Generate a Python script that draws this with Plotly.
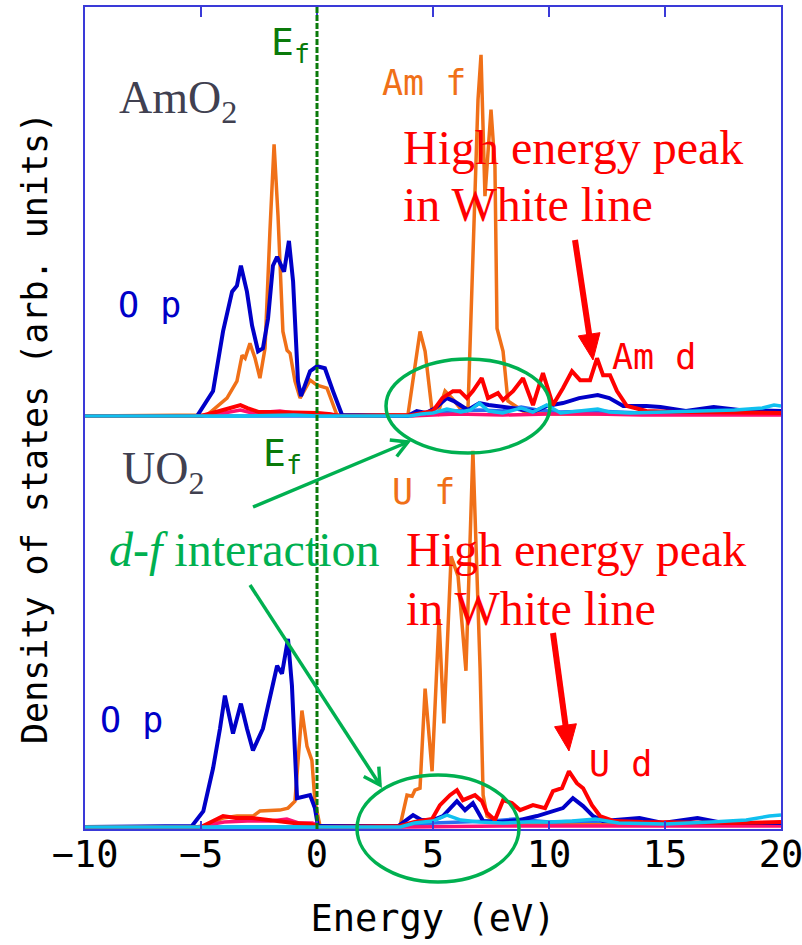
import math
import plotly.graph_objects as go
from plotly.subplots import make_subplots

# ---------------- data (arb. units) ----------------
X_RANGE = [-10, 20]
Y_RANGE = [-0.2, 41.1]
E_FERMI = 0.0
x_ticks = [-10, -5, 0, 5, 10, 15, 20]

# AmO2 (upper panel)
amo2_op_E = [-10, -5.17, -4.48, -4.05, -3.66, -3.45, -3.28, -3.02, -2.8, -2.54, -2.33, -2.11, -1.9, -1.72,
             -1.42, -1.21, -1.03, -0.82, -0.69, -0.3, 0.0, 0.34, 0.69, 1.08, 3.9, 4.3, 4.7, 5.1, 5.6, 5.9,
             6.5, 7.0, 7.4, 7.8, 8.4, 8.9, 9.4, 9.9, 10.6, 11.3, 12.1, 12.6, 13.2, 14.2, 14.8, 15.9, 17.1,
             18.2, 19.2, 20]
amo2_op = [0, 0, 2.5, 8.5, 12.5, 13.1, 15.1, 12.5, 9.1, 6.5, 6.8, 9.8, 15.1, 16.0,
           14.5, 17.6, 13.5, 3.5, 2.0, 4.5, 5.0, 4.8, 2.5, 0.1, 0, 0.5, 0.3, 0.8, 1.8, 1.5,
           0.6, 1.3, 1.1, 1.0, 0.8, 0.6, 0.5, 1.0, 1.3, 1.8, 2.1, 1.8, 1.0, 1.0, 0.9, 0.5, 0.9,
           0.6, 0.6, 0.5]

amo2_f_E = [-10, -4.74, -3.88, -3.45, -3.23, -3.1, -2.89, -2.67, -2.46, -2.24, -2.03, -1.85, -1.68, -1.47,
            -1.29, -1.16, -0.95, -0.73, -0.3, 0.0, 0.43, 0.86, 3.92, 4.44, 4.66, 4.96, 5.2, 5.52, 5.82,
            6.16, 6.51, 6.72, 6.94, 7.07, 7.24, 7.5, 7.67, 7.76, 8.02, 8.23, 8.88, 10, 12, 14, 16, 18, 20]
amo2_f = [0, 0.1, 1.8, 3.5, 6.1, 5.8, 7.3, 5.8, 3.8, 6.8, 18.5, 27.3, 20.1, 8.5,
          6.6, 6.3, 3.5, 1.8, 3.6, 3.1, 2.8, 0.1, 0.1, 8.5, 6.5, 0.5, 0.2, 2.5, 1.8,
          0.8, 0.8, 15.1, 31.8, 36.3, 22.1, 30.8, 25.1, 8.8, 6.5, 1.5, 0.5, 0.2, 0.2, 0.2, 0.2, 0.2, 0.3]

amo2_d_E = [-10, -5.0, -4.2, -3.6, -3.3, -3.0, -2.5, -2.0, -1.5, -1.0, -0.5, 0, 0.5, 1.0, 4.1, 5.0, 5.4,
            5.86, 6.16, 6.46, 6.72, 7.1, 7.37, 7.8, 8.02, 8.45, 8.88, 9.31, 9.74, 10.17, 10.6, 10.99,
            11.34, 11.77, 12.07, 12.33, 12.63, 12.93, 13.36, 14.2, 15.5, 17, 18.5, 20]
amo2_d = [0, 0, 0.5, 0.9, 1.1, 0.8, 0.4, 0.4, 0.4, 0.3, 0.3, 0.3, 0.2, 0, 0.1, 0.5, 1.8,
          2.5, 2.5, 1.8, 2.5, 3.8, 1.8, 2.3, 1.6, 2.5, 3.8, 1.1, 4.3, 1.1, 2.8, 4.5,
          3.6, 3.6, 5.8, 4.1, 4.1, 2.5, 1.0, 0.5, 0.4, 0.4, 0.3, 0.3]

amo2_pink_E = [-10, -5.0, -4.0, -3.3, -2.8, -2.0, -1.6, -1.0, -0.3, 0.5, 1.0, 4, 6, 8, 10, 12, 14, 16, 18, 20]
amo2_pink = [0, 0, 0.3, 0.6, 0.3, 0.4, 0.5, 0.3, 0.3, 0.2, 0, 0, 0.2, 0.1, 0.2, 0.2, 0.1, 0.1, 0.1, 0.1]

amo2_mb_E = [-10, 4, 5, 6, 7, 8, 8.8, 9.5, 10.5, 12, 14, 16, 18, 20]
amo2_mb = [0, 0, 0.3, 0.5, 0.6, 0.5, 0.9, 0.6, 0.4, 0.5, 0.3, 0.2, 0.3, 0.4]

amo2_cy_E = [-10, -5, -3, -1, 0, 4.0, 4.5, 5.0, 5.6, 6.2, 6.6, 7.0, 7.4, 8.0, 8.8, 9.3, 9.9, 10.5, 11.2,
             12.1, 12.6, 13.5, 15, 16.5, 18, 19.2, 19.7, 20]
amo2_cy = [0, 0, 0, 0.1, 0, 0, 0.2, 0.3, 0.7, 0.4, 0.6, 1.3, 0.5, 0.3, 0.8, 0.4, 1.1, 0.3, 0.5,
           0.7, 0.4, 0.3, 0.4, 0.5, 0.6, 0.8, 1.1, 1.0]

# UO2 (lower panel)
uo2_op_E = [-10, -5.39, -4.9, -4.48, -4.18, -3.97, -3.62, -3.28, -3.02, -2.76, -2.33, -1.94, -1.72, -1.51,
            -1.25, -1.08, -0.86, -0.3, -0.09, 0.04, 3.5, 4.14, 4.5, 5.0, 5.43, 6.03, 6.38, 6.72, 7.16, 7.8,
            8.75, 9.48, 10.17, 10.6, 11.03, 11.47, 11.9, 12.33, 13.9, 14.9, 16.4, 17.5, 20]
uo2_op = [0, 0.1, 1.6, 5.9, 9.9, 13.2, 9.4, 12.4, 9.9, 7.7, 9.9, 13.9, 16.2, 15.4,
          18.9, 14.2, 2.9, 3.2, 1.9, 0.1, 0.1, 1.2, 0.7, 0.7, 1.1, 2.6, 1.7, 2.4, 0.6, 0.5,
          0.7, 1.1, 1.6, 1.9, 2.9, 2.1, 1.1, 0.6, 0.9, 0.4, 0.9, 0.4, 0.4]

uo2_f_E = [-10, -5.0, -4.05, -3.45, -2.76, -2.46, -1.6, -1.25, -0.95, -0.65, -0.43, -0.22, -0.09, 0.13,
           3.58, 3.88, 4.1, 4.22, 4.44, 4.66, 4.96, 5.26, 5.47, 5.78, 6.08, 6.42, 6.72, 7.03, 7.16, 7.33,
           7.7, 9, 11, 13, 15, 17, 19, 20]
uo2_f = [0, 0, 0.9, 1.1, 1.1, 1.6, 1.7, 1.9, 2.6, 11.7, 8.1, 6.7, 2.6, 0.1,
         0.1, 3.2, 3.1, 3.7, 3.9, 13.9, 5.6, 20.9, 10.4, 27.2, 25.2, 15.7, 37.8, 15.9, 3.2, 1.1,
         0.6, 0.3, 0.3, 0.3, 0.2, 0.2, 0.3, 0.3]

uo2_d_E = [-10, -5.0, -4.05, -3.5, -2.8, -1.8, -1.0, -0.3, 0.1, 3.58, 4.2, 4.96, 5.3, 5.73, 6.03, 6.29,
           6.81, 7.11, 7.33, 7.67, 8.02, 8.4, 8.75, 9.31, 9.83, 10.17, 10.56, 10.86, 11.2, 11.47, 11.85,
           12.2, 12.8, 14, 16, 18, 20]
uo2_d = [0, 0, 1.1, 0.9, 0.9, 0.6, 0.4, 0.3, 0, 0.1, 0.5, 0.8, 2.2, 3.2, 3.7, 2.7,
         3.2, 2.6, 1.4, 0.7, 2.7, 2.4, 1.7, 2.2, 1.9, 3.6, 3.9, 5.6, 4.4, 3.9, 2.2,
         1.1, 0.6, 0.5, 0.4, 0.4, 0.5]

uo2_pink_E = [-10, -5.2, -4.0, -3.0, -2.0, -1.3, -0.8, -0.2, 0.2, 4, 8, 12, 16, 20]
uo2_pink = [0, 0, 0.5, 0.6, 0.6, 0.8, 0.4, 0.4, 0, 0, 0.1, 0.1, 0.1, 0.1]

uo2_mb_E = [-10, 3.6, 5, 6.5, 7.5, 8.5, 10, 12, 14, 16, 18, 20]
uo2_mb = [0, 0, 0.4, 0.5, 0.6, 0.8, 0.5, 0.6, 0.4, 0.3, 0.3, 0.3]

uo2_cy_E = [-10, 3.6, 4.2, 5.0, 5.6, 6.2, 7.0, 8.0, 9.0, 10.0, 11.0, 12.0, 13.0, 15.0, 17.0, 18.5, 19.5, 20]
uo2_cy = [0, 0, 0.4, 0.6, 1.2, 0.7, 0.5, 0.4, 0.5, 0.5, 0.6, 0.8, 0.4, 0.3, 0.5, 0.7, 1.1, 1.2]

# ---------------- styling ----------------
C_OP = "#0000c8"
C_F = "#f07018"
C_D = "#ff0000"
C_PINK = "#ff1070"
C_MB = "#2a6ef0"
C_CY = "#10c0f0"
C_GREEN = "#00b050"
C_EF = "#0a7a0a"
C_FRAME = "#3a3ad8"
C_NAME = "#404050"
GOTHIC = "DejaVu Sans Mono"
SERIF = "Liberation Serif, Times New Roman, serif"

W, H = 802, 945
ML, MR, MT, MB = 85, 21, 7, 116
PW, PH = W - ML - MR, H - MT - MB


def fx(px):
    return (px - ML) / PW


def fy(py):
    return (H - MB - py) / PH


def ex(e):
    return (e - X_RANGE[0]) / (X_RANGE[1] - X_RANGE[0])


fig = make_subplots(rows=2, cols=1, shared_xaxes=True, vertical_spacing=0)

panels = [
    (1, [(amo2_f_E, amo2_f, C_F, 3.5), (amo2_mb_E, amo2_mb, C_MB, 3.5), (amo2_pink_E, amo2_pink, C_PINK, 3.5),
         (amo2_op_E, amo2_op, C_OP, 4), (amo2_d_E, amo2_d, C_D, 4), (amo2_cy_E, amo2_cy, C_CY, 3.5)]),
    (2, [(uo2_f_E, uo2_f, C_F, 3.5), (uo2_mb_E, uo2_mb, C_MB, 3.5), (uo2_pink_E, uo2_pink, C_PINK, 3.5),
         (uo2_op_E, uo2_op, C_OP, 4), (uo2_d_E, uo2_d, C_D, 4), (uo2_cy_E, uo2_cy, C_CY, 3.5)]),
]
for row, series in panels:
    for xs, ys, col, lw in series:
        fig.add_trace(go.Scatter(x=xs, y=ys, mode="lines", line=dict(color=col, width=lw),
                                 showlegend=False, hoverinfo="skip", cliponaxis=True), row=row, col=1)

axis_common = dict(showgrid=False, zeroline=False, showline=True, linecolor=C_FRAME, linewidth=1.5,
                   automargin=False)
fig.update_xaxes(range=X_RANGE, tickvals=x_ticks, **axis_common)
fig.update_xaxes(row=1, col=1, side="top", showticklabels=False, ticks="inside", ticklen=10,
                 tickcolor=C_FRAME, tickwidth=1.5)
fig.update_xaxes(row=2, col=1, ticks="inside", ticklen=8, tickcolor=C_FRAME, tickwidth=1.5,
                 tickfont=dict(family=GOTHIC, size=37, color="black"), ticklabelstandoff=-8,
                 ticklabeloverflow="allow",
                 title=dict(text="Energy (eV)", font=dict(family=GOTHIC, size=37, color="black"), standoff=30))
fig.update_yaxes(range=Y_RANGE, showticklabels=False, ticks="", mirror=True, **axis_common)

shapes = []
# Fermi level
shapes.append(dict(type="line", xref="paper", yref="paper", x0=ex(E_FERMI), x1=ex(E_FERMI), y0=0, y1=1,
                   line=dict(color=C_EF, width=3, dash="6px,2px")))
# d-f interaction ellipses
shapes.append(dict(type="circle", xref="paper", yref="paper", x0=fx(386), x1=fx(550), y0=fy(453), y1=fy(359),
                   line=dict(color=C_GREEN, width=3.5)))
shapes.append(dict(type="circle", xref="paper", yref="paper", x0=fx(357), x1=fx(519), y0=fy(882), y1=fy(775),
                   line=dict(color=C_GREEN, width=3.5)))


def arrow_shapes(tail, head, color, width, head_len, head_half, filled):
    dx, dy = head[0] - tail[0], head[1] - tail[1]
    n = math.hypot(dx, dy)
    ux, uy = dx / n, dy / n
    nx, ny = -uy, ux
    bx, by = head[0] - head_len * ux, head[1] - head_len * uy
    p1 = (bx + head_half * nx, by + head_half * ny)
    p2 = (bx - head_half * nx, by - head_half * ny)
    end = (bx + 2 * ux, by + 2 * uy) if filled else head
    out = [dict(type="line", xref="paper", yref="paper", x0=fx(tail[0]), y0=fy(tail[1]),
                x1=fx(end[0]), y1=fy(end[1]), line=dict(color=color, width=width))]

    def P(p):
        return f"{fx(p[0]):.5f},{fy(p[1]):.5f}"

    if filled:
        path = f"M{P(head)} L{P(p1)} L{P(p2)} Z"
        out.append(dict(type="path", xref="paper", yref="paper", path=path, fillcolor=color,
                        line=dict(color=color, width=1)))
    else:
        path = f"M{P(p1)} L{P(head)} L{P(p2)}"
        out.append(dict(type="path", xref="paper", yref="paper", path=path,
                        line=dict(color=color, width=width)))
    return out


shapes += arrow_shapes((253, 507), (408, 442), C_GREEN, 3.5, 16, 9, False)
shapes += arrow_shapes((250, 585), (380, 785), C_GREEN, 3.5, 16, 9, False)
shapes += arrow_shapes((575, 240), (593, 360), C_D, 6, 26, 11, True)
shapes += arrow_shapes((553, 633), (569, 751), C_D, 6, 26, 11, True)

ann = []


def label(text, px, py, color, family, size, xanchor="left"):
    ann.append(dict(text=text, x=fx(px), y=fy(py), xref="paper", yref="paper", xanchor=xanchor,
                    yanchor="middle", showarrow=False, borderpad=0,
                    font=dict(family=family, size=size, color=color)))


label("AmO<sub>2</sub>", 118, 101, C_NAME, SERIF, 46)
label("UO<sub>2</sub>", 121, 472, C_NAME, SERIF, 46)
label("E<sub>f</sub>", 270, 44, C_EF, GOTHIC, 38)
label("E<sub>f</sub>", 262, 455, C_EF, GOTHIC, 38)
label("O p", 117, 305, C_OP, GOTHIC, 35)
label("O p", 99, 720, C_OP, GOTHIC, 35)
label("Am f", 381, 83, C_F, GOTHIC, 35)
label("Am d", 611, 357, C_D, GOTHIC, 35)
label("U f", 391, 492, C_F, GOTHIC, 35)
label("U d", 588, 764, C_D, GOTHIC, 35)
label("High energy peak", 402, 148, C_D, SERIF, 48)
label("in White line", 402, 204, C_D, SERIF, 48)
label("High energy peak", 405, 549, C_D, SERIF, 48)
label("in White line", 405, 608, C_D, SERIF, 48)
label("<i>d-f</i> interaction", 108, 549, C_GREEN, SERIF, 48)

ann.append(dict(text="Density of states (arb. units)", x=fx(35), y=fy(428), xref="paper", yref="paper",
                textangle=-90, showarrow=False, xanchor="center", yanchor="middle",
                font=dict(family=GOTHIC, size=35, color="black")))

fig.update_layout(width=W, height=H, margin=dict(l=ML, r=MR, t=MT, b=MB),
                  plot_bgcolor="white", paper_bgcolor="white", shapes=shapes, annotations=ann,
                  showlegend=False)

fig.write_html("out.html", config={"displayModeBar": False},
               post_script="document.body.style.margin='0';")
